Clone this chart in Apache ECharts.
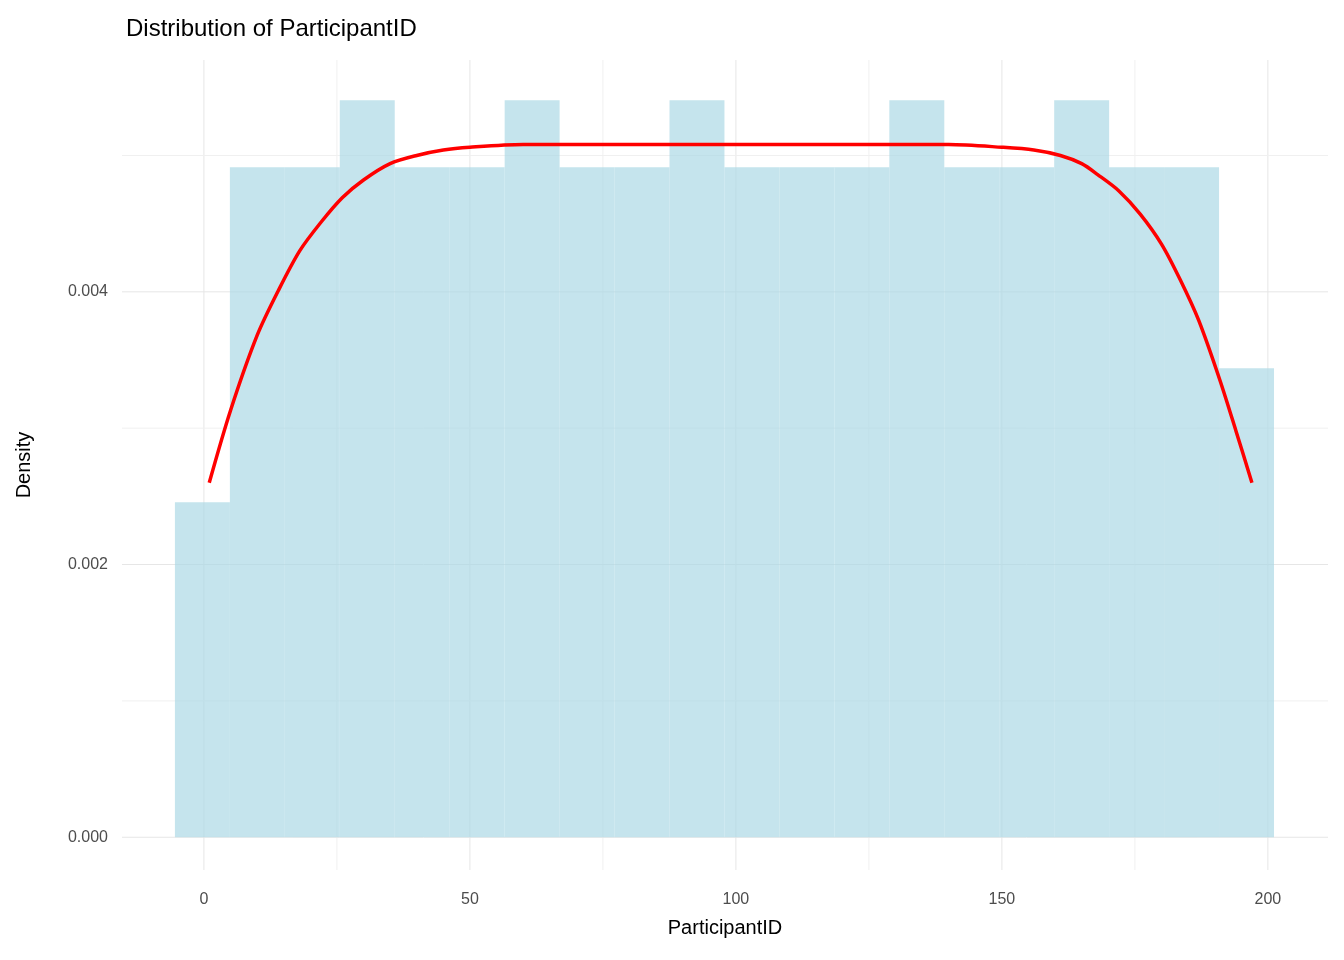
<!DOCTYPE html>
<html><head><meta charset="utf-8">
<script src="https://cdn.jsdelivr.net/npm/echarts@6/dist/echarts.min.js"></script>
<style>html,body{margin:0;padding:0;background:#fff}#c{width:1344px;height:960px}</style>
</head><body><div id="c"></div>
<script>
const binStarts = [-5.45,4.88,15.21,25.54,35.87,46.2,56.53,66.86,77.19,87.52,97.85,108.18,118.51,128.84,139.17,149.5,159.83,170.16,180.49,190.82];
const binWidth = 10.33;
const counts = [5,10,10,11,10,10,11,10,10,11,10,10,10,11,10,10,11,10,10,7];
const total = 197;
const densX = [1,5,10,14,18,22,26,30,35,40,45,50,60,80,100,120,140,150,156,161,165,168,172,176,180,183.5,187,191,194,197];
const densY = [0.0026,0.00313,0.00368,0.00401,0.0043,0.00451,0.00469,0.00482,0.00494,0.005,0.00504,0.00506,0.00508,0.00508,0.00508,0.00508,0.00508,0.00506,0.00504,0.005,0.00494,0.00486,0.00474,0.00457,0.00435,0.00409,0.00379,0.00335,0.00298,0.0026];
const xTicks = [0,50,100,150,200];
const yTicks = [0,0.002,0.004];
const xGrid = [0,25,50,75,100,125,150,175,200];
const yGrid = [0,0.001,0.002,0.003,0.004,0.005];

const bars = binStarts.map((s,i)=>[s, s+binWidth, counts[i]/(total*binWidth)]);
const gridData = xGrid.map(v=>[0,v]).concat(yGrid.map(v=>[1,v]));
const F = 'Liberation Sans, Arial';
const chart = echarts.init(document.getElementById('c'));
chart.setOption({
  animation:false,
  title:{text:'Distribution of ParticipantID', left:121, top:12, textStyle:{fontFamily:F, fontSize:24, fontWeight:'normal', color:'#000'}},
  grid:{left:122, right:16, top:60, bottom:90},
  xAxis:{type:'value', min:-15.4, max:211.3, name:'ParticipantID', nameLocation:'middle', nameGap:48,
    nameTextStyle:{fontFamily:F, fontSize:20, color:'#000'},
    axisLine:{show:false}, axisTick:{show:false}, splitLine:{show:false},
    axisLabel:{customValues:xTicks, fontFamily:F, fontSize:16, color:'#4d4d4d', margin:22}},
  yAxis:{type:'value', min:-0.00024, max:0.0057, name:'Density', nameLocation:'middle', nameGap:88, nameRotate:90,
    nameTextStyle:{fontFamily:F, fontSize:20, color:'#000'},
    axisLine:{show:false}, axisTick:{show:false}, splitLine:{show:false},
    axisLabel:{customValues:yTicks, formatter:v=>v.toFixed(3), fontFamily:F, fontSize:16, color:'#4d4d4d', margin:14}},
  series:[
    {type:'custom', z:1, silent:true, data:gridData, renderItem:(params, api)=>{
      const cs = params.coordSys;
      const isX = api.value(0) === 0;
      const v = api.value(1);
      const major = isX ? (v % 50 === 0) : (Math.round(v*1000) % 2 === 0);
      let shape;
      if (isX) { const p = api.coord([v, 0]); shape = {x1:p[0], y1:cs.y, x2:p[0], y2:cs.y+cs.height}; }
      else { const p = api.coord([0, v]); shape = {x1:cs.x, y1:p[1], x2:cs.x+cs.width, y2:p[1]}; }
      return {type:'line', shape, style:{stroke: major?'#e6e6e6':'#f0f0f0', lineWidth:1}};
    }},
    {type:'custom', z:2, data:bars, renderItem:(params, api)=>{
      const p0 = api.coord([api.value(0), api.value(2)]);
      const p1 = api.coord([api.value(1), 0]);
      return {type:'rect', shape:{x:p0[0], y:p0[1], width:p1[0]-p0[0], height:p1[1]-p0[1]}, style:{fill:'rgba(173,216,230,0.7)'}};
    }},
    {type:'line', z:3, smooth:0.3, symbol:'none', data:densX.map((x,i)=>[x,densY[i]]), lineStyle:{color:'#ff0000', width:3.5}}
  ]
});
</script></body></html>
